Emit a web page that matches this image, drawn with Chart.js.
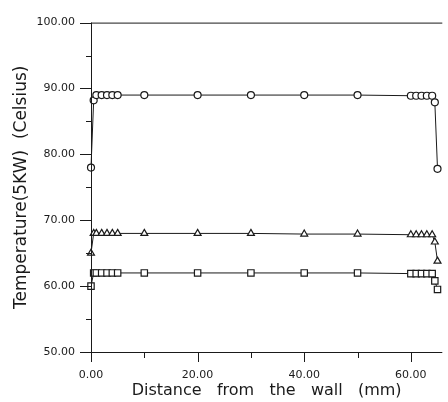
<!DOCTYPE html>
<html>
<head>
<meta charset="utf-8">
<script src="https://cdn.jsdelivr.net/npm/chart.js@4"></script>
<style>
  html, body { margin: 0; padding: 0; background: #fff; }
  #wrap { width: 448px; height: 402px; }
</style>
</head>
<body>
<div id="wrap"><canvas id="temp-chart"></canvas></div>
<script>
// distance from the wall (mm) and temperature readings (Celsius)
const distance = [0, 0.5, 1, 2, 3, 4, 5, 10, 20, 30, 40, 50, 60, 61, 62, 63, 64, 64.5, 65];
const tempCircle = [78, 88.2, 89, 89, 89, 89, 89, 89, 89, 89, 89, 89, 88.9, 88.9, 88.9, 88.9, 88.9, 87.9, 77.8];
const tempTriangle = [65, 68, 68, 68, 68, 68, 68, 68, 68, 68, 67.9, 67.9, 67.8, 67.8, 67.8, 67.8, 67.8, 66.7, 63.8];
const tempSquare = [60, 62, 62, 62, 62, 62, 62, 62, 62, 62, 62, 62, 61.9, 61.9, 61.9, 61.9, 61.9, 60.8, 59.5];

const xMajor = [0, 20, 40, 60];
const xMinor = [10, 30, 50];
const yMajor = [50, 60, 70, 80, 90, 100];
const yMinor = [55, 65, 75, 85, 95];

const ink = '#1a1a1a';

function series(values, style, radius) {
    return {
        data: distance.map((d, i) => ({ x: d, y: values[i] })),
        borderColor: ink,
        borderWidth: 1,
        pointStyle: style,
        pointRadius: radius,
        pointBorderWidth: 1.2,
        pointBorderColor: ink,
        pointBackgroundColor: '#fff',
        tension: 0,
        clip: false
    };
}

// hand-drawn axis frame and tick marks, like the old plotting package
const axisMarks = {
    id: 'axisMarks',
    afterDraw(chart) {
        const { ctx, chartArea: a, scales: { x, y } } = chart;
        ctx.save();
        ctx.strokeStyle = ink;
        ctx.lineWidth = 1;
        ctx.beginPath();
        ctx.moveTo(a.left + 0.5, a.top);
        ctx.lineTo(a.left + 0.5, a.bottom);
        ctx.moveTo(a.left, a.bottom + 0.5);
        ctx.lineTo(a.right, a.bottom + 0.5);
        ctx.moveTo(a.left, a.top + 0.5);
        ctx.lineTo(a.right, a.top + 0.5);
        yMajor.forEach(v => {
            const py = Math.round(y.getPixelForValue(v)) + 0.5;
            ctx.moveTo(a.left - 11, py);
            ctx.lineTo(a.left, py);
        });
        yMinor.forEach(v => {
            const py = Math.round(y.getPixelForValue(v)) + 0.5;
            ctx.moveTo(a.left - 5, py);
            ctx.lineTo(a.left, py);
        });
        xMajor.forEach(v => {
            const px = Math.round(x.getPixelForValue(v)) + 0.5;
            ctx.moveTo(px, a.bottom);
            ctx.lineTo(px, a.bottom + 10);
        });
        xMinor.forEach(v => {
            const px = Math.round(x.getPixelForValue(v)) + 0.5;
            ctx.moveTo(px, a.bottom);
            ctx.lineTo(px, a.bottom + 6);
        });
        ctx.stroke();
        ctx.restore();
    }
};

const ctx = document.getElementById('temp-chart').getContext('2d');
const chart = new Chart(ctx, {
    type: 'line',
    data: {
        datasets: [
            series(tempCircle, 'circle', 3.5),
            series(tempTriangle, 'triangle', 4),
            series(tempSquare, 'rect', 4.5)
        ]
    },
    options: {
        responsive: true,
        maintainAspectRatio: false,
        animation: false,
        layout: { padding: { top: 10, right: 0, left: 0, bottom: 0 } },
        plugins: {
            legend: { display: false },
            tooltip: { enabled: false }
        },
        scales: {
            x: {
                type: 'linear',
                min: 0,
                max: 65.9,
                border: { display: false },
                grid: { display: false, drawTicks: false },
                afterBuildTicks: scale => { scale.ticks = xMajor.map(v => ({ value: v })); },
                afterFit: scale => { scale.height = 50; },
                ticks: {
                    padding: 17,
                    color: ink,
                    font: { family: 'DejaVu Sans', size: 11 },
                    callback: v => v.toFixed(2)
                },
                title: {
                    display: true,
                    text: 'Distance   from   the   wall   (mm)',
                    color: ink,
                    font: { family: 'DejaVu Sans', size: 16 },
                    padding: { top: 0, bottom: 2 }
                }
            },
            y: {
                type: 'linear',
                min: 50,
                max: 100,
                border: { display: false },
                grid: { display: false, drawTicks: false },
                afterBuildTicks: scale => { scale.ticks = yMajor.map(v => ({ value: v })); },
                afterFit: scale => { scale.width = 91; },
                ticks: {
                    padding: 16,
                    color: ink,
                    font: { family: 'DejaVu Sans', size: 11 },
                    callback: v => v.toFixed(2)
                },
                title: {
                    display: true,
                    text: 'Temperature(5KW)  (Celsius)',
                    color: ink,
                    font: { family: 'DejaVu Sans', size: 17 },
                    padding: { top: 11, bottom: 0 }
                }
            }
        }
    },
    plugins: [axisMarks]
});
</script>
</body>
</html>
